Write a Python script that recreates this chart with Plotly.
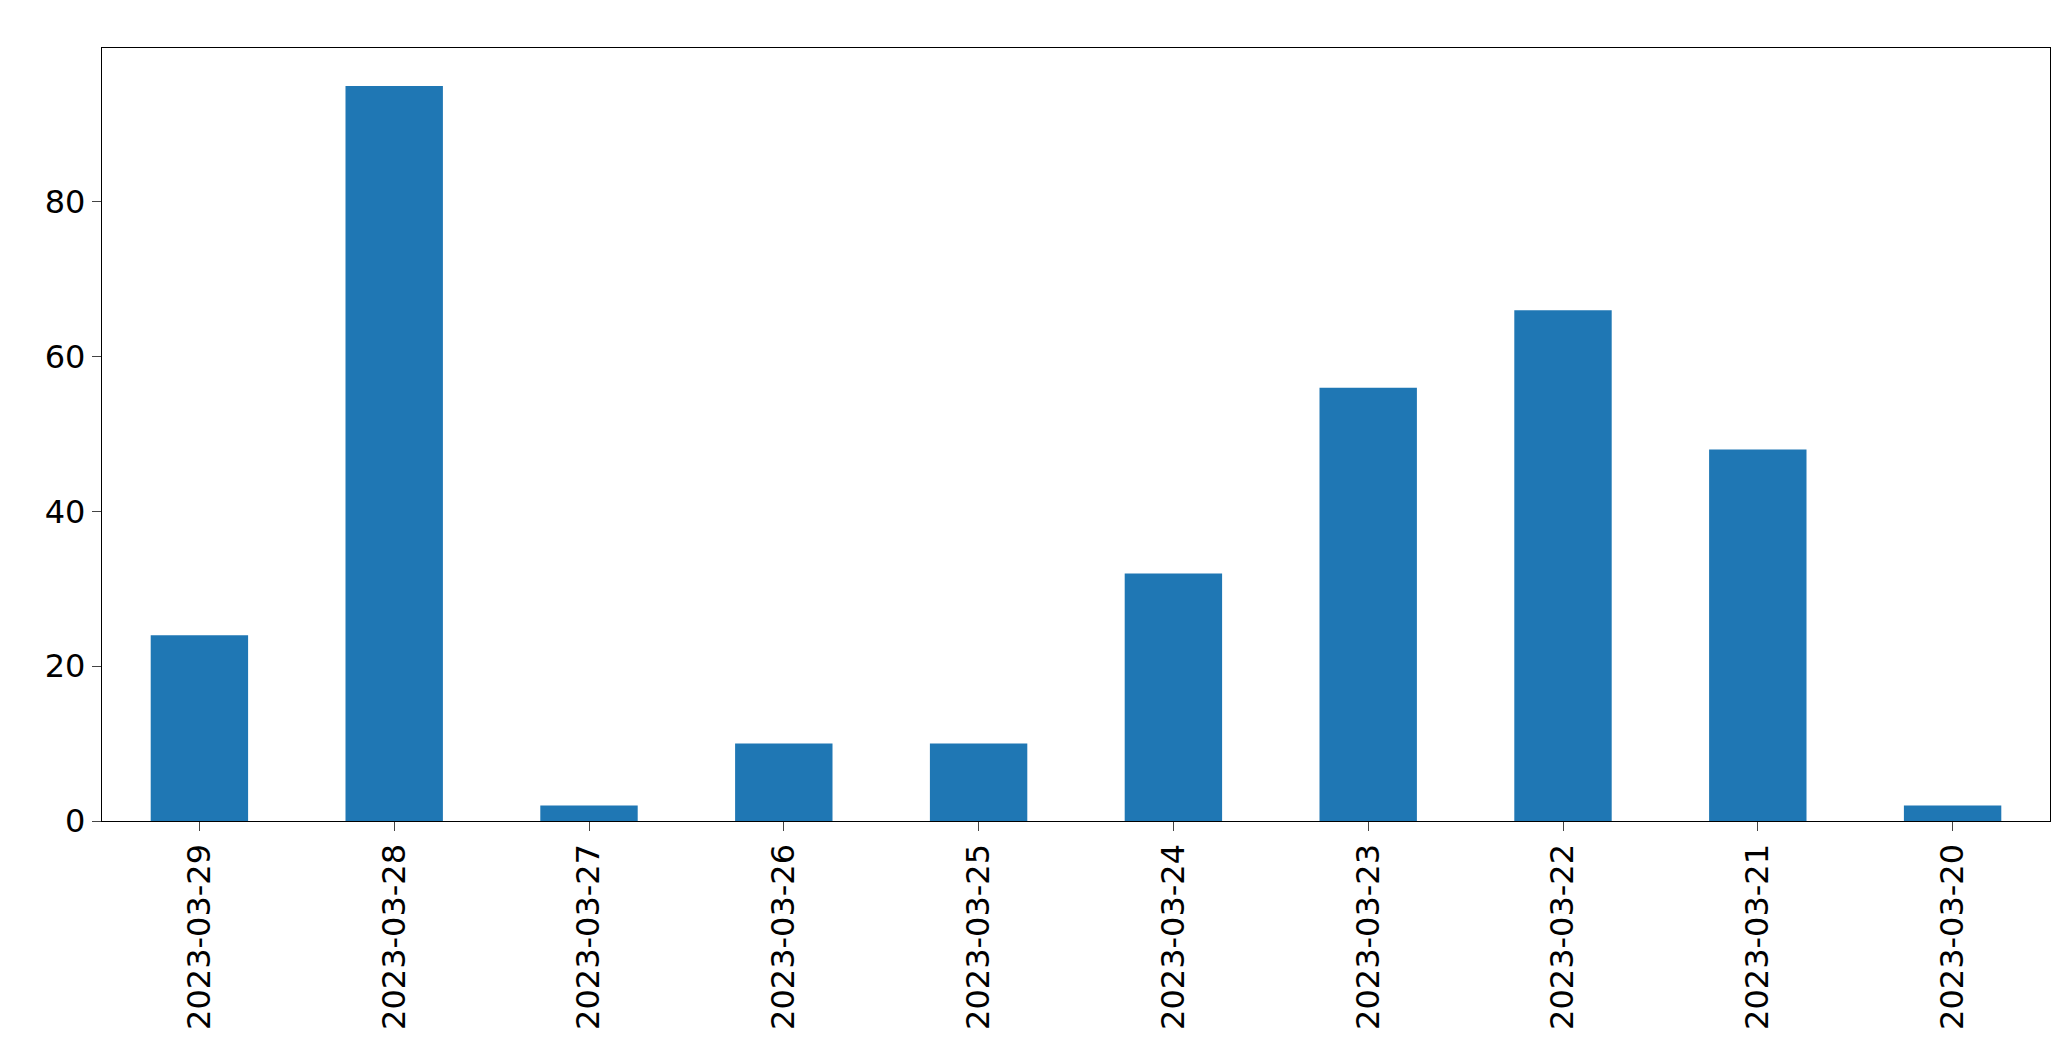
import plotly.graph_objects as go

dates = ["2023-03-29","2023-03-28","2023-03-27","2023-03-26","2023-03-25",
         "2023-03-24","2023-03-23","2023-03-22","2023-03-21","2023-03-20"]
counts = [24, 95, 2, 10, 10, 32, 56, 66, 48, 2]

fig = go.Figure(go.Bar(x=dates, y=counts, width=0.5, marker_color="#1f77b4", marker_line_width=0))
fig.update_layout(
    width=2071, height=1061, paper_bgcolor="white", plot_bgcolor="white",
    margin=dict(l=94, r=29, t=40, b=248), showlegend=False,
    font=dict(family="DejaVu Sans", size=32, color="black"),
)
fig.update_xaxes(type="category", range=[-0.5, 9.5], tickangle=-90, ticks="outside",
                 ticklen=9, tickwidth=1.3, showline=True, linecolor="black", linewidth=1.3,
                 mirror=True, showgrid=False)
fig.update_yaxes(range=[0, 99.9], tickvals=[0, 20, 40, 60, 80], ticks="outside",
                 ticklen=9, tickwidth=1.3, showline=True, linecolor="black", linewidth=1.3,
                 mirror=True, showgrid=False, zeroline=False)
fig.write_html("out.html")
